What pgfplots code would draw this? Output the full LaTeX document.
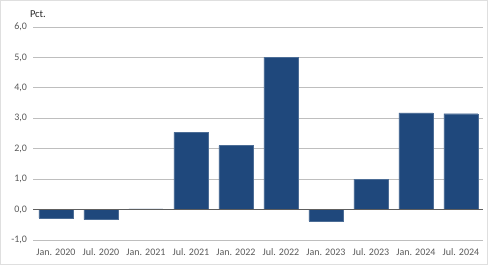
\documentclass[border=0pt]{standalone}
\usepackage{pgfplots}
\pgfplotsset{compat=1.18}
\usepackage{fontspec}
\setmainfont{Carlito}
\definecolor{barblue}{RGB}{31,72,124}
\definecolor{lbl}{RGB}{89,89,89}
\definecolor{gridc}{RGB}{190,190,190}
\begin{document}
\begin{tikzpicture}[x=1pt,y=1pt]
\useasboundingbox (0,0) rectangle (488,265);
\draw[gray!25,line width=0.8pt] (0.4,0.4) rectangle (487.6,264.6);
\begin{axis}[
  at={(33.5pt,25pt)}, anchor=south west,
  scale only axis, width=450pt, height=213pt,
  xmin=-0.5, xmax=9.5, ymin=-1, ymax=6,
  ytick={-1,0,...,6},
  xtick={0,...,9},
  xticklabels={Jan. 2020,Jul. 2020,Jan. 2021,Jul. 2021,Jan. 2022,Jul. 2022,Jan. 2023,Jul. 2023,Jan. 2024,Jul. 2024},
  axis line style={draw=none},
  major tick length=0pt,
  ymajorgrids, grid style={gridc, line width=0.8pt},
  tick label style={font=\fontsize{10}{12}\selectfont, text=lbl},
  /pgf/number format/fixed,
  /pgf/number format/fixed zerofill,
  /pgf/number format/precision=1,
  /pgf/number format/use comma,
  /pgf/number format/assume math mode=true,
  xticklabel style={yshift=-5pt},
  yticklabel style={xshift=-3pt},
  ybar, bar width=34pt,
  clip=false,
]
\addplot[fill=barblue, draw=barblue!80!white, line width=0.4pt] coordinates {
 (0,-0.27) (1,-0.33) (2,0.02) (3,2.54) (4,2.10) (5,5.00) (6,-0.38) (7,1.00) (8,3.18) (9,3.15)};
\draw[gray!60!black!90, line width=1.2pt] (axis cs:-0.5,0) -- (axis cs:9.5,0);
\node[font=\fontsize{10.5}{12}\selectfont, text=black!85, anchor=west] at (axis cs:-0.5,6) [xshift=-7pt,yshift=13pt] {Pct.};
\end{axis}
\end{tikzpicture}
\end{document}
